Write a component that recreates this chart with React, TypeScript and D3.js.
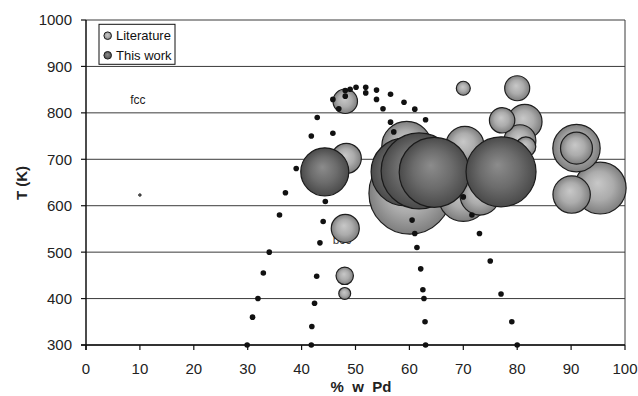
import * as d3 from "d3";

// axis ticks
const xTicks = d3.range(0, 101, 10);
const yTicks = d3.range(300, 1001, 100);

// Literature bubbles (drawn in this order)
const litPd = [60.1, 95.4, 59.5, 70.0, 91.0, 73.1, 70.3, 90.1, 81.4, 91.0, 80.5, 48.3, 48.1, 77.2, 80.0, 48.1, 81.6, 48.0, 70.0, 48.0];
const litT = [627, 638, 728, 620, 724, 623, 730, 624, 781, 724, 740, 702, 551, 784, 853, 825, 727, 449, 853, 411];
const litSize = [100, 40, 37, 37, 33.4, 23.8, 21.5, 20.8, 17.8, 15.2, 15.2, 13.4, 11.7, 9.6, 9.3, 8.9, 5.9, 4.5, 2.9, 2.1];

// This work bubbles
const workPd = [44.3, 59.2, 61.8, 64.6, 77.0, 10];
const workT = [673, 673, 675, 672, 673, 623];
const workSize = [34.3, 68.8, 85.9, 72.9, 72.9, 0.1];

// phase boundary points
const boundaryPd = [
  29.9, 30.9, 31.9, 32.9, 34.0, 35.9, 37.0, 39.0, 41.8, 42.9, 45.8, 48.1, 49.0, 50.1, 51.9, 53.9, 56.5, 59.0, 61.0, 63.0,
  41.8, 41.9, 42.4, 42.8, 43.4, 44.0, 44.4, 45.8, 46.9, 48.1, 51.9, 53.9, 55.1, 56.5, 57.1,
  60.5, 61.0, 61.4, 62.1, 62.5, 62.7, 62.9, 63.0,
  70.0, 71.6, 73.0, 75.0, 77.0, 79.0, 80.0,
];
const boundaryT = [
  300, 360, 400, 455, 500, 580, 628, 680, 750, 790, 829, 848, 851, 855, 855, 849, 840, 823, 808, 785,
  300, 340, 390, 448, 520, 566, 609, 756, 809, 836, 843, 829, 809, 780, 759,
  569, 540, 510, 464, 419, 400, 350, 300,
  619, 580, 540, 481, 410, 350, 300,
];

const width = 638;
const height = 396;
const margin = { top: 20, right: 13, bottom: 51, left: 86 };
const font = "'Liberation Sans', Arial, sans-serif";

export default function App() {
  const x = d3.scaleLinear().domain([0, 100]).range([margin.left, width - margin.right]);
  const y = d3.scaleLinear().domain([300, 1000]).range([height - margin.bottom, margin.top]);
  const r = d3.scaleSqrt().domain([0, 100]).range([0, 41]);

  const lit = litPd.map((pd, i) => ({ pd, t: litT[i], s: litSize[i] }));
  const work = workPd.map((pd, i) => ({ pd, t: workT[i], s: workSize[i] }));
  const boundary = boundaryPd.map((pd, i) => ({ pd, t: boundaryT[i] }));

  const [x0, x1] = x.range();
  const [y0, y1] = y.range();

  return (
    <div style={{ position: "fixed", left: 0, top: 0 }}>
      <svg width={width} height={height} style={{ display: "block", background: "#fff" }}>
        <defs>
          <radialGradient id="litFill" cx="50%" cy="50%" r="50%" fx="45%" fy="40%">
            <stop offset="0%" stopColor="#c8c8c8" />
            <stop offset="55%" stopColor="#acacac" />
            <stop offset="100%" stopColor="#7e7e7e" />
          </radialGradient>
          <radialGradient id="workFill" cx="50%" cy="50%" r="50%" fx="45%" fy="40%">
            <stop offset="0%" stopColor="#8c8c8c" />
            <stop offset="55%" stopColor="#6c6c6c" />
            <stop offset="100%" stopColor="#4a4a4a" />
          </radialGradient>
        </defs>

        {/* gridlines */}
        {yTicks.map((t) => (
          <line key={t} x1={x0} x2={x1} y1={y(t)} y2={y(t)} stroke="#3a3a3a" strokeWidth={1} />
        ))}
        <line x1={x1} x2={x1} y1={y1} y2={y0} stroke="#3a3a3a" strokeWidth={1} />

        {/* labels behind bubbles */}
        <text x={137.8} y={104} fontFamily={font} fontSize={12} textAnchor="middle" fill="#222">fcc</text>
        <text x={342} y={244} fontFamily={font} fontSize={12} textAnchor="middle" fill="#444">bcc</text>

        {/* axes */}
        <line x1={x0} x2={x0} y1={y1} y2={y0 + 5} stroke="#111" strokeWidth={1.5} />
        <line x1={x0 - 5} x2={x1} y1={y0} y2={y0} stroke="#111" strokeWidth={1.5} />
        {yTicks.map((t) => (
          <g key={t}>
            <line x1={x0 - 5} x2={x0} y1={y(t)} y2={y(t)} stroke="#111" strokeWidth={1.2} />
            <text x={x0 - 14} y={y(t)} dy="0.36em" textAnchor="end" fontFamily={font} fontSize={15} fill="#222">
              {t}
            </text>
          </g>
        ))}
        {xTicks.map((t) => (
          <g key={t}>
            <line x1={x(t)} x2={x(t)} y1={y0} y2={y0 + 5} stroke="#111" strokeWidth={1.2} />
            <text x={x(t)} y={y0 + 29} textAnchor="middle" fontFamily={font} fontSize={15} fill="#222">
              {t}
            </text>
          </g>
        ))}

        {/* bubbles */}
        {lit.map((d, i) => (
          <circle key={"l" + i} cx={x(d.pd)} cy={y(d.t)} r={r(d.s)} fill="url(#litFill)" stroke="#1e1e1e" strokeWidth={1.2} />
        ))}
        {work.map((d, i) => (
          <circle key={"w" + i} cx={x(d.pd)} cy={y(d.t)} r={r(d.s)} fill="url(#workFill)" stroke="#1a1a1a" strokeWidth={d.s < 1 ? 0.8 : 1.2} />
        ))}
        {boundary.map((d, i) => (
          <circle key={"b" + i} cx={x(d.pd)} cy={y(d.t)} r={2.8} fill="#111" />
        ))}

        {/* axis titles */}
        <text
          transform={`translate(26.5,183) rotate(-90)`}
          textAnchor="middle"
          fontFamily={font}
          fontSize={15}
          fontWeight="bold"
          fill="#222"
        >
          T (K)
        </text>
        <text x={361} y={392} textAnchor="middle" fontFamily={font} fontSize={15} fontWeight="bold" fill="#222" style={{ whiteSpace: "pre" }}>
          {"%  w  Pd"}
        </text>

        {/* legend */}
        <rect x={99} y={24.3} width={76} height={40} fill="#fff" stroke="#111" strokeWidth={1} />
        <circle cx={107.7} cy={35.7} r={3.8} fill="url(#litFill)" stroke="#1e1e1e" strokeWidth={1} />
        <text x={116} y={40} fontFamily={font} fontSize={13} fill="#111">Literature</text>
        <circle cx={107.7} cy={55.3} r={3.8} fill="url(#workFill)" stroke="#1e1e1e" strokeWidth={1} />
        <text x={116} y={60} fontFamily={font} fontSize={13} fill="#111">This work</text>
      </svg>
    </div>
  );
}
